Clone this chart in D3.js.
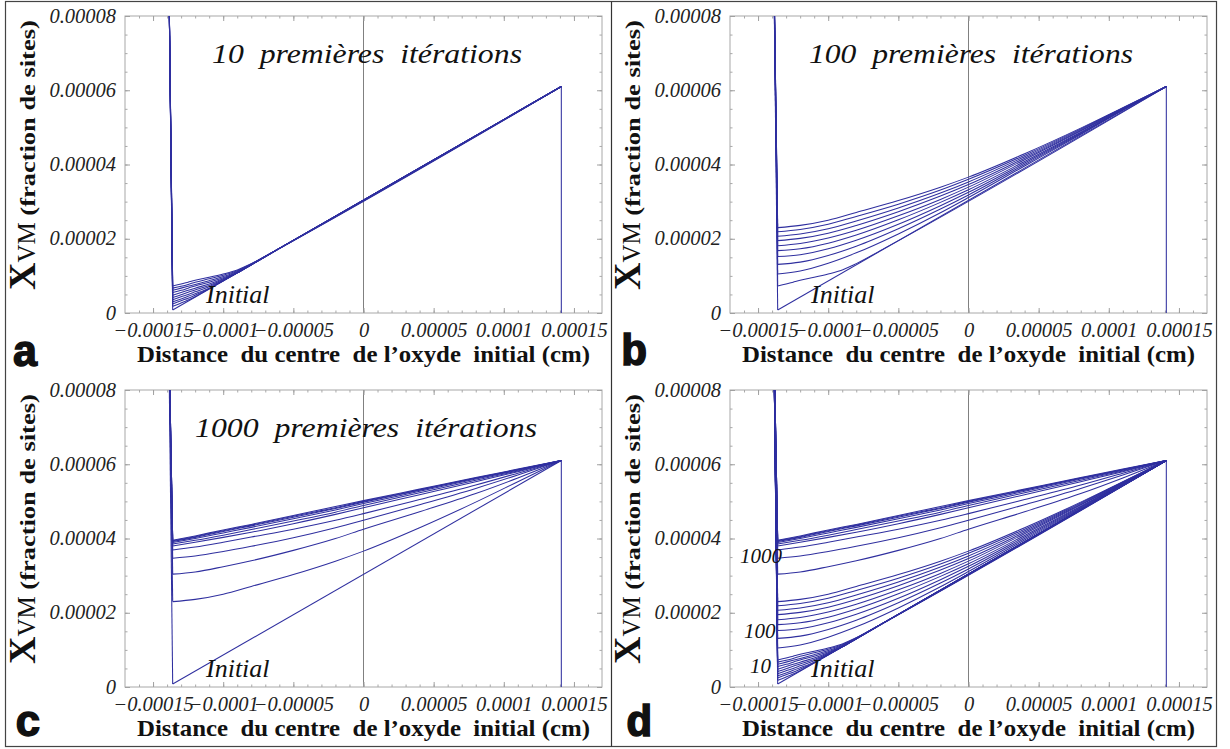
<!DOCTYPE html>
<html>
<head>
<meta charset="utf-8">
<script src="https://cdn.jsdelivr.net/npm/d3@7"></script>
<style>
  body { margin: 0; background: #fff; }
  svg { display: block; }
</style>
</head>
<body>
<svg id="fig" width="1230" height="749"></svg>
<script>
// ---- sampling positions (cm from the centre of the initial oxide) ----
const xGridFine   = [-0.000136, -0.00013, -0.000125, -0.00012, -0.00011, -0.0001, -0.00009, -0.00008, -0.00006, 0.000141];
const xGridCoarse = [-0.000136, -0.00012, -0.0001, -0.00008, -0.00005, -0.00002, 0, 0.00004, 0.00008, 0.00011, 0.000141];

// left boundary spike (goes far above the plotted range), x in cm, X_VM in 1e-5
const spikeX = -0.000139;
const spikeY = 10;

// ---- X_VM profiles, in units of 1e-5 site fraction ----
const initialX = [-0.000136, 0.000141];
const initialY = [0.08, 6.10];

// iterations 1 … 10 (on xGridFine)
const iter1to10 = [
  [0.18, 0.27, 0.35, 0.44, 0.65, 0.87, 1.08, 1.30, 1.74, 6.10],
  [0.24, 0.33, 0.40, 0.48, 0.66, 0.87, 1.08, 1.30, 1.74, 6.10],
  [0.30, 0.38, 0.45, 0.52, 0.67, 0.87, 1.08, 1.30, 1.74, 6.10],
  [0.36, 0.44, 0.50, 0.57, 0.71, 0.88, 1.08, 1.30, 1.74, 6.10],
  [0.42, 0.49, 0.56, 0.62, 0.74, 0.90, 1.09, 1.30, 1.74, 6.10],
  [0.48, 0.55, 0.61, 0.67, 0.78, 0.92, 1.10, 1.30, 1.74, 6.10],
  [0.55, 0.61, 0.67, 0.73, 0.83, 0.95, 1.10, 1.31, 1.74, 6.10],
  [0.61, 0.67, 0.72, 0.77, 0.87, 0.98, 1.12, 1.32, 1.74, 6.10],
  [0.67, 0.72, 0.77, 0.83, 0.92, 1.02, 1.14, 1.32, 1.74, 6.10],
  [0.73, 0.78, 0.83, 0.88, 0.96, 1.05, 1.16, 1.33, 1.74, 6.10]
];

// iterations 20, 30 … 100 (on xGridCoarse)
const iter20to100 = [
  [1.05, 1.13, 1.34, 1.62, 2.13, 2.70, 3.11, 3.96, 4.81, 5.46, 6.10],
  [1.31, 1.37, 1.55, 1.80, 2.27, 2.80, 3.18, 4.00, 4.83, 5.47, 6.10],
  [1.52, 1.57, 1.73, 1.96, 2.39, 2.89, 3.25, 4.04, 4.85, 5.47, 6.10],
  [1.68, 1.73, 1.88, 2.10, 2.51, 2.98, 3.32, 4.08, 4.87, 5.48, 6.10],
  [1.81, 1.87, 2.02, 2.23, 2.62, 3.06, 3.39, 4.13, 4.90, 5.49, 6.10],
  [1.95, 2.01, 2.15, 2.36, 2.73, 3.15, 3.46, 4.17, 4.92, 5.50, 6.10],
  [2.07, 2.13, 2.27, 2.48, 2.83, 3.23, 3.53, 4.21, 4.94, 5.51, 6.10],
  [2.19, 2.25, 2.39, 2.60, 2.93, 3.31, 3.60, 4.25, 4.96, 5.52, 6.10],
  [2.30, 2.36, 2.50, 2.71, 3.03, 3.39, 3.66, 4.29, 4.98, 5.53, 6.10]
];

// iterations 200, 300 … 1000 (on xGridCoarse)
const iter200to1000 = [
  [3.04, 3.10, 3.24, 3.40, 3.68, 4.00, 4.25, 4.72, 5.21, 5.63, 6.10],
  [3.47, 3.53, 3.65, 3.79, 4.02, 4.29, 4.49, 4.91, 5.35, 5.71, 6.10],
  [3.69, 3.77, 3.90, 4.04, 4.25, 4.49, 4.67, 5.05, 5.44, 5.76, 6.10],
  [3.80, 3.90, 4.03, 4.17, 4.40, 4.65, 4.83, 5.18, 5.53, 5.80, 6.10],
  [3.85, 3.95, 4.09, 4.24, 4.47, 4.71, 4.89, 5.23, 5.57, 5.82, 6.10],
  [3.89, 4.00, 4.15, 4.30, 4.53, 4.77, 4.94, 5.27, 5.60, 5.84, 6.10],
  [3.92, 4.03, 4.19, 4.34, 4.57, 4.81, 4.98, 5.30, 5.62, 5.85, 6.10],
  [3.94, 4.05, 4.21, 4.36, 4.60, 4.83, 5.00, 5.31, 5.63, 5.86, 6.10],
  [3.95, 4.07, 4.23, 4.38, 4.62, 4.86, 5.02, 5.33, 5.64, 5.87, 6.10]
];

// ---- axes ----
const xDomain = [-0.00017, 0.00017];
const yDomain = [0, 0.00008];
const xTicks = [-0.00015, -0.0001, -0.00005, 0, 0.00005, 0.0001, 0.00015];
const xTickLabels = ["\u22120.00015", "\u22120.0001", "\u22120.00005", "0", "0.00005", "0.0001", "0.00015"];
const yTicks = [0, 0.00002, 0.00004, 0.00006, 0.00008];
const yTickLabels = ["0", "0.00002", "0.00004", "0.00006", "0.00008"];
const xMinorTicks = d3.range(-16, 17).map(k => k * 0.00001);
const yMinorTicks = d3.range(0, 17).map(k => k * 0.000005);

const xTitle = "Distance\u00a0 du centre\u00a0 de l\u2019oxyde\u00a0 initial (cm)";

// ---- layout ----
const PW = 477, PH = 297;           // plot frame size
const PLOT_LEFT = 125, PLOT_TOP = 16;
const BLUE = "#2f2f9f";
const SERIF = "'Liberation Serif', 'Times New Roman', serif";

const panels = [
  { key: "a", ox: 0,   oy: 0,   title: "10\u00a0 premières\u00a0 itérations",   titleX: 212, titleLen: 310,
    letterX: 12, letterY: 366, fine: iter1to10, coarse: [] },
  { key: "b", ox: 605, oy: 0,   title: "100\u00a0 premières\u00a0 itérations",  titleX: 204, titleLen: 324,
    letterX: 16, letterY: 365, fine: [iter1to10[9]], coarse: iter20to100 },
  { key: "c", ox: 0,   oy: 374, title: "1000\u00a0 premières\u00a0 itérations", titleX: 195, titleLen: 342,
    letterX: 15, letterY: 362, fine: [], coarse: [iter20to100[8]].concat(iter200to1000) },
  { key: "d", ox: 605, oy: 374, title: null,
    letterX: 21, letterY: 362, fine: iter1to10, coarse: iter20to100.concat(iter200to1000),
    runLabels: [["1000", 135, 189], ["100", 139, 264], ["10", 145, 299]] }
];

const svg = d3.select("#fig");

const x = d3.scaleLinear().domain(xDomain).range([0, PW]);
const y = d3.scaleLinear().domain(yDomain).range([PH, 0]);

const lineSmooth = d3.line().x(d => x(d[0])).y(d => y(d[1] * 1e-5)).curve(d3.curveMonotoneX);
const lineStraight = d3.line().x(d => x(d[0])).y(d => y(d[1] * 1e-5));

// outer border and column divider
svg.append("rect").attr("x", 5.5).attr("y", 1.5).attr("width", 1211).attr("height", 745)
  .attr("fill", "none").attr("stroke", "#444").attr("stroke-width", 1.2);
svg.append("line").attr("x1", 611.5).attr("x2", 611.5).attr("y1", 1.5).attr("y2", 746.5)
  .attr("stroke", "#333").attr("stroke-width", 1.2);

panels.forEach(p => {
  const root = svg.append("g").attr("transform", `translate(${p.ox},${p.oy})`);
  const g = root.append("g").attr("transform", `translate(${PLOT_LEFT},${PLOT_TOP})`);

  const clipId = "clip-" + p.key;
  g.append("clipPath").attr("id", clipId)
    .append("rect").attr("x", 0).attr("y", 0).attr("width", PW).attr("height", PH);

  // frame
  g.append("rect").attr("width", PW).attr("height", PH)
    .attr("fill", "none").attr("stroke", "#a8a8a8").attr("stroke-width", 1);

  // axis line at x = 0
  g.append("line").attr("x1", x(0)).attr("x2", x(0)).attr("y1", 0).attr("y2", PH)
    .attr("stroke", "#808080").attr("stroke-width", 1);

  // minor ticks on all four sides
  const minor = [
    [d3.axisBottom(x), `translate(0,${PH})`, xMinorTicks],
    [d3.axisTop(x), "translate(0,0)", xMinorTicks],
    [d3.axisLeft(y), "translate(0,0)", yMinorTicks],
    [d3.axisRight(y), `translate(${PW},0)`, yMinorTicks]
  ];
  minor.forEach(([ax, tr, vals]) => {
    const dom = ax.scale().domain();
    const a = g.append("g").attr("transform", tr)
      .call(ax.tickValues(vals.filter(v => v >= dom[0] && v <= dom[1]))
        .tickFormat("").tickSizeInner(-2.5).tickSizeOuter(0));
    a.select(".domain").remove();
    a.selectAll(".tick line").attr("stroke", "#a8a8a8");
  });

  // major ticks + labels
  const xb = g.append("g").attr("transform", `translate(0,${PH})`)
    .call(d3.axisBottom(x).tickValues(xTicks).tickFormat((d, i) => xTickLabels[i])
      .tickSizeInner(-5).tickSizeOuter(0));
  const xt = g.append("g")
    .call(d3.axisTop(x).tickValues(xTicks).tickFormat("").tickSizeInner(-5).tickSizeOuter(0));
  const yl = g.append("g")
    .call(d3.axisLeft(y).tickValues(yTicks).tickFormat((d, i) => yTickLabels[i])
      .tickSizeInner(-5).tickSizeOuter(0).tickPadding(9));
  const yr = g.append("g").attr("transform", `translate(${PW},0)`)
    .call(d3.axisRight(y).tickValues(yTicks).tickFormat("").tickSizeInner(-5).tickSizeOuter(0));
  [xb, xt, yl, yr].forEach(a => {
    a.select(".domain").remove();
    a.selectAll(".tick line").attr("stroke", "#a0a0a0");
    a.selectAll(".tick text")
      .attr("font-family", SERIF).attr("font-style", "italic")
      .attr("font-size", 20.5).attr("fill", "#222");
  });
  xb.selectAll(".tick text").attr("y", 24).attr("dy", 0);
  yl.selectAll(".tick text").attr("dy", "0.3em");

  // profiles
  const curves = g.append("g").attr("clip-path", `url(#${clipId})`)
    .attr("fill", "none").attr("stroke", BLUE).attr("stroke-width", 1.05);

  const profiles = [];
  p.fine.forEach(ys => profiles.push(xGridFine.map((xv, i) => [xv, ys[i]])));
  p.coarse.forEach(ys => profiles.push(xGridCoarse.map((xv, i) => [xv, ys[i]])));

  // initial linear profile
  const init = initialX.map((xv, i) => [xv, initialY[i]]);
  curves.append("path").attr("d", lineStraight([[spikeX, spikeY], init[0]]));
  curves.append("path").attr("d", lineStraight(init));

  profiles.forEach(pts => {
    curves.append("path").attr("d", lineStraight([[spikeX, spikeY], pts[0]]));
    curves.append("path").attr("d", lineSmooth(pts));
  });

  // right boundary drop
  const last = init[init.length - 1];
  curves.append("path").attr("d", lineStraight([last, [last[0], 0]]));

  // texts
  if (p.title) {
    root.append("text").attr("x", p.titleX).attr("y", 63)
      .attr("font-family", SERIF).attr("font-style", "italic").attr("font-size", 28)
      .attr("textLength", p.titleLen).attr("lengthAdjust", "spacingAndGlyphs")
      .attr("fill", "#111").text(p.title);
  }
  root.append("text").attr("x", 206).attr("y", 303)
    .attr("font-family", SERIF).attr("font-style", "italic").attr("font-size", 26)
    .attr("fill", "#111").text("Initial");

  if (p.runLabels) {
    p.runLabels.forEach(([t, lx, ly]) => {
      root.append("text").attr("x", lx).attr("y", ly)
        .attr("font-family", SERIF).attr("font-style", "italic").attr("font-size", 21)
        .attr("fill", "#111").text(t);
    });
  }

  // x title
  root.append("text").attr("x", 137).attr("y", 362)
    .attr("font-family", SERIF).attr("font-weight", "bold").attr("font-size", 23)
    .attr("textLength", 453).attr("lengthAdjust", "spacingAndGlyphs")
    .attr("fill", "#111").text(xTitle);

  // y title
  const yt = root.append("text").attr("transform", "translate(35,290) rotate(-90)")
    .attr("font-family", SERIF).attr("fill", "#111");
  yt.append("tspan").attr("font-size", 38).attr("font-weight", "bold").text("X");
  yt.append("tspan").attr("font-size", 25).attr("font-weight", "normal").text("VM");
  yt.append("tspan").attr("font-size", 22).attr("font-weight", "bold")
    .attr("textLength", 202).attr("lengthAdjust", "spacingAndGlyphs").text("\u00a0(fraction de sites)");

  // panel letter
  root.append("text").attr("x", p.letterX).attr("y", p.letterY)
    .attr("font-family", "'Liberation Mono', 'Courier New', monospace").attr("font-weight", "bold")
    .attr("font-size", 44).attr("fill", "#111").attr("stroke", "#111").attr("stroke-width", 1.4)
    .text(p.key);
});
</script>
</body>
</html>
